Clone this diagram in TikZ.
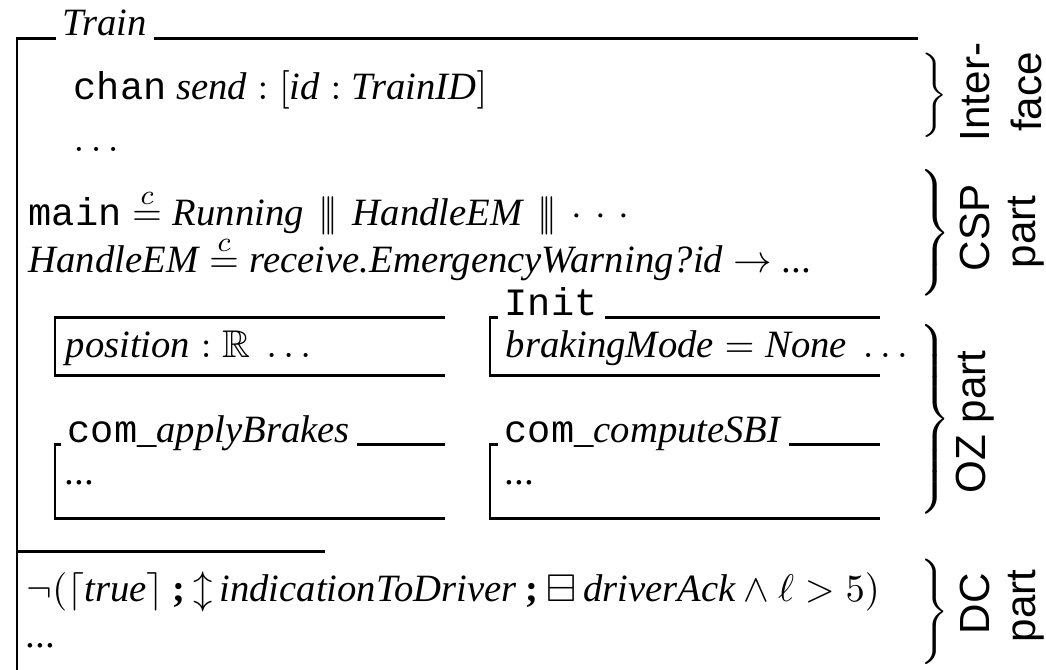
\documentclass[tikz,border=0pt]{standalone}
\usepackage{amsmath,amssymb}
\usepackage{fontspec}
\setmainfont{Liberation Serif}
\setsansfont{Liberation Sans}
\setmonofont{Liberation Mono}
\usetikzlibrary{positioning}

\newcommand{\zid}[1]{\textit{#1}}
\newcommand{\zseq}{\mathbin{\textbf{;}}}
\newcommand{\zdef}{\mathrel{\stackrel{c}{=}}}
\newcommand{\zint}{\mathbin{\,|\!|\!|\,}}
\newcommand{\zdots}{{\cdot}\mkern6mu{\cdot}\mkern6mu{\cdot}}
\newcommand{\sideBrace}[1]{$\left.\vcenter{\hbox{\rule{0pt}{#1}}}\right\}$}

\begin{document}
\begin{tikzpicture}[x=0.1mm, y=-0.1mm,
    frame/.style={line width=0.85pt},
    zFont/.style={font=\fontsize{11}{13}\selectfont},
    schTitle/.style={zFont, fill=white, anchor=base west, inner xsep=2pt, inner ysep=0pt, text depth=2pt},
    zLine/.style={zFont, anchor=base west, inner sep=0pt},
    brc/.style={inner sep=0pt},
    sideLbl/.style={font=\sffamily\fontsize{12}{14}\selectfont, rotate=90, inner sep=0pt},
]
\useasboundingbox (0,0) rectangle (1046,670);

% outer Train class
\draw[frame] (17,670) -- (17,39) -- (918,39);
\node[schTitle] (tTrain) at (55,36) {\zid{Train}};

% interface
\node[zLine] (chanLn) at (73,100) {\texttt{chan} $\zid{send} : [\zid{id} : \zid{TrainID}]$};
\node[zLine] (ifDots) at (73,152) {$\ldots$};

% CSP part
\node[zLine] (mainLn) at (28,226) {$\texttt{main} \zdef \zid{Running} \zint \zid{HandleEM} \zint \zdots$};
\node[zLine] (emLn) at (28,273) {$\zid{HandleEM} \zdef \zid{receive.EmergencyWarning?id} \rightarrow \zid{...}$};

% OZ part
\draw[frame] (445,318) -- (55,318) -- (55,376) -- (445,376);
\node[zLine] (posLn) at (65,358) {$\zid{position} : \mathbb{R}\ \ldots$};

\draw[frame] (880,318) -- (490,318) -- (490,376) -- (880,376);
\node[schTitle] (tInit) at (497,316) {\texttt{Init}};
\node[zLine] (initLn) at (505,358) {$\zid{brakingMode} = \zid{None}\ \ldots$};

\draw[frame] (445,445) -- (55,445) -- (55,519) -- (445,519);
\node[schTitle] (tApply) at (60,443) {\texttt{com}\_\zid{applyBrakes}};
\node[zLine] (applyDots) at (65,485) {\zid{...}};

\draw[frame] (880,445) -- (490,445) -- (490,519) -- (880,519);
\node[schTitle] (tSbi) at (497,443) {\texttt{com}\_\zid{computeSBI}};
\node[zLine] (sbiDots) at (505,485) {\zid{...}};

% DC part
\draw[frame] (17,552) -- (325,552);
\node[zLine] (dcLn) at (26,602) {$\neg(\lceil \zid{true} \rceil \zseq {\updownarrow}\,\zid{indicationToDriver} \zseq {\boxminus}\,\zid{driverAck} \land \ell > 5)$};
\node[zLine] (dcDots) at (26,648) {\zid{...}};

% braces on the right
\node[brc] (brInt) at (933,95) {\sideBrace{7.8mm}};
\node[sideLbl] (lInt1) at (975,92) {Inter-};
\node[sideLbl] (lInt2) at (1026,92) {face};
\node[brc] (brCsp) at (933,233) {\sideBrace{13mm}};
\node[sideLbl] (lCsp1) at (975,228) {CSP};
\node[sideLbl] (lCsp2) at (1026,232) {part};
\node[brc] (brOz) at (933,419) {\sideBrace{20.5mm}};
\node[sideLbl] (lOz) at (975,422) {OZ part};
\node[brc] (brDc) at (933,612) {\sideBrace{10.5mm}};
\node[sideLbl] (lDc1) at (975,604) {DC};
\node[sideLbl] (lDc2) at (1026,606) {part};
\end{tikzpicture}
\end{document}
